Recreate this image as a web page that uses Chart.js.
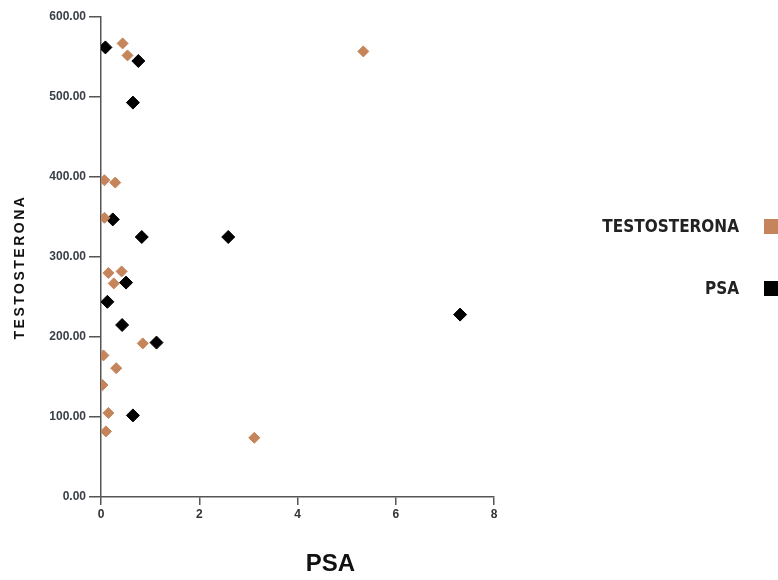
<!DOCTYPE html>
<html>
<head>
<meta charset="utf-8">
<script src="https://cdn.jsdelivr.net/npm/chart.js@4"></script>
<style>
  html, body { margin: 0; padding: 0; background: #fff; }
  #wrap { position: relative; width: 778px; height: 580px; overflow: hidden; }
  #legend { position: absolute; left: 0; top: 0; width: 778px; height: 580px; pointer-events: none; }
  .leg-row { position: absolute; right: 0; display: flex; align-items: center; height: 20px; }
  .leg-text { font-family: "DejaVu Sans Condensed", "DejaVu Sans", sans-serif; font-stretch: condensed; font-weight: bold; font-size: 17px; color: #222; margin-right: 25px; }
  .leg-box { width: 15px; height: 15px; }
</style>
</head>
<body>
<div id="wrap">
  <canvas id="scatterChart" width="778" height="580"></canvas>
  <div id="legend"></div>
</div>
<script>
// PSA (x) vs values (y)
const testoX = [0.44, 0.54, 0.07, 0.29, 0.07, 0.15, 0.42, 0.26, 0.85, 0.05, 0.31, 0.03, 0.15, 0.10, 3.12, 5.34];
const testoY = [567, 552, 396, 393, 349, 280, 282, 267, 192, 177, 161, 140, 105, 82, 74, 557];

const psaX = [0.09, 0.76, 0.65, 0.24, 0.83, 2.59, 0.51, 0.13, 0.43, 1.13, 0.65, 7.31];
const psaY = [562, 545, 493, 347, 325, 325, 268, 244, 215, 193, 102, 228];

const yTicks = [0, 100, 200, 300, 400, 500, 600];
const xTicks = [0, 2, 4, 6, 8];

const seriesLabels = ['TESTOSTERONA', 'PSA'];
const seriesColors = ['#C5845A', '#000000'];

const toPoints = (xs, ys) => xs.map((x, i) => ({ x: x, y: ys[i] }));

const axisColor = '#555';
const tickFont = { family: 'Liberation Sans', size: 12, weight: 'bold' };

// axis titles drawn by hand: spaced-out y title, x title sitting a bit right of centre
const axisTitles = {
    id: 'axisTitles',
    afterDraw(chart) {
        const { ctx, chartArea } = chart;
        const xOpt = chart.options.scales.x.title;
        const yOpt = chart.options.scales.y.title;
        ctx.save();
        ctx.fillStyle = '#111';
        ctx.textAlign = 'center';
        ctx.textBaseline = 'middle';

        ctx.font = 'bold 24px "Liberation Sans", Arial, sans-serif';
        ctx.fillText(xOpt.text, (chartArea.left + chartArea.right) / 2 + 33, 564);

        ctx.translate(20, 267);
        ctx.rotate(-Math.PI / 2);
        ctx.font = 'bold 14px "Liberation Sans", Arial, sans-serif';
        if ('letterSpacing' in ctx) ctx.letterSpacing = '2.5px';
        ctx.fillText(yOpt.text, 0, 0);
        ctx.restore();
    }
};

const chart = new Chart(document.getElementById('scatterChart'), {
    type: 'scatter',
    data: {
        datasets: [
            {
                label: seriesLabels[0],
                data: toPoints(testoX, testoY),
                backgroundColor: seriesColors[0],
                borderColor: seriesColors[0],
                pointStyle: 'rectRot',
                pointRadius: 5.5,
                pointHoverRadius: 5.5
            },
            {
                label: seriesLabels[1],
                data: toPoints(psaX, psaY),
                backgroundColor: seriesColors[1],
                borderColor: seriesColors[1],
                pointStyle: 'rectRot',
                pointRadius: 6.5,
                pointHoverRadius: 6.5
            }
        ]
    },
    options: {
        responsive: false,
        animation: false,
        layout: { padding: { top: 17, right: 284, left: 6, bottom: 0 } },
        plugins: {
            legend: { display: false },
            tooltip: { enabled: false }
        },
        scales: {
            x: {
                type: 'linear',
                min: xTicks[0],
                max: xTicks[xTicks.length - 1],
                afterBuildTicks: (scale) => { scale.ticks = xTicks.map(v => ({ value: v })); },
                afterFit: (scale) => { scale.height = 83; },
                border: { display: true, color: axisColor, width: 1.5 },
                grid: { drawOnChartArea: false, color: axisColor, lineWidth: 1.5, tickLength: 8 },
                ticks: { color: '#333', font: tickFont, padding: 2 },
                title: { display: false, text: 'PSA' }
            },
            y: {
                type: 'linear',
                min: yTicks[0],
                max: yTicks[yTicks.length - 1],
                afterBuildTicks: (scale) => { scale.ticks = yTicks.map(v => ({ value: v })); },
                afterFit: (scale) => { scale.width = 95; },
                border: { display: true, color: axisColor, width: 1.5 },
                grid: { drawOnChartArea: false, color: axisColor, lineWidth: 1.5, tickLength: 12 },
                ticks: {
                    color: '#3a3f48',
                    font: tickFont,
                    padding: 3,
                    callback: (value) => Number(value).toFixed(2)
                },
                title: { display: false, text: 'TESTOSTERONA' }
            }
        }
    },
    plugins: [axisTitles]
});

// Legend on the right: label then a square
const legendEl = document.getElementById('legend');
const legendTops = [216, 278];
chart.data.datasets.forEach((ds, i) => {
    const row = document.createElement('div');
    row.className = 'leg-row';
    row.style.top = legendTops[i] + 'px';
    row.style.right = '-1px';
    row.innerHTML = `<span class="leg-text">${ds.label}</span><span class="leg-box" style="background:${ds.backgroundColor}"></span>`;
    legendEl.appendChild(row);
});
</script>
</body>
</html>
